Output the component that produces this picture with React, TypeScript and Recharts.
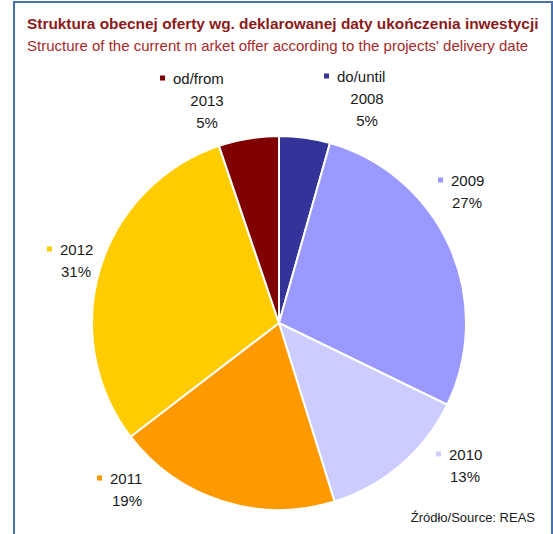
import { PieChart, Pie, Cell } from "recharts";

// slice values (angles), clockwise from 12 o'clock
const categories = ["do/until 2008", "2009", "2010", "2011", "2012", "od/from 2013"];
const shares = [4.4, 27.8, 13.0, 19.4, 30.2, 5.2];
const shareLabels = ["5%", "27%", "13%", "19%", "31%", "5%"];
const nameLines = [["do/until", "2008"], ["2009"], ["2010"], ["2011"], ["2012"], ["od/from", "2013"]];
const colors = ["#333399", "#9999ff", "#ccccff", "#ff9900", "#ffcc00", "#800000"];

const data = categories.map((name, i) => ({ name, value: shares[i] }));

// label placement relative to pie center: text start, first line y, column center
const labelLayout = [
  { sx: 58, y: -246, c: 88 },
  { sx: 172, y: -142, c: 188 },
  { sx: 170, y: 132, c: 186 },
  { sx: -169, y: 156, c: -152 },
  { sx: -219, y: -73, c: -203 },
  { sx: -106, y: -244, c: -72 },
];

const FONT = "'Liberation Sans', Arial, Helvetica, sans-serif";
const LINE = 21.7;

function renderLabel(props: any) {
  const { cx, cy, index } = props;
  const l = labelLayout[index];
  const lines = [...nameLines[index], shareLabels[index]];
  const x0 = cx + l.sx;
  const y0 = cy + l.y;
  return (
    <g key={index}>
      <rect x={x0 - 13} y={y0 - 3.5} width={5} height={5} fill={colors[index]} />
      {lines.map((t, k) => (
        <text
          key={k}
          x={k === 0 ? x0 : cx + l.c}
          y={y0 + k * LINE + 5.3}
          textAnchor={k === 0 ? "start" : "middle"}
          fontFamily={FONT}
          fontSize={15}
          fill="#1a1a1a"
        >
          {t}
        </text>
      ))}
    </g>
  );
}

export default function App() {
  return (
    <div
      style={{
        position: "absolute",
        left: 0,
        top: 0,
        width: 553,
        height: 534,
        overflow: "hidden",
        background: "#fff",
        fontFamily: FONT,
      }}
    >
      <div
        style={{
          position: "absolute",
          left: 13,
          top: 1,
          width: 536,
          height: 560,
          border: "2px solid #4a6fae",
        }}
      />
      <div
        style={{
          position: "absolute",
          left: 27,
          top: 15,
          fontSize: 15.4,
          fontWeight: "bold",
          color: "#8b1a1a",
          whiteSpace: "nowrap",
        }}
      >
        Struktura obecnej oferty wg. deklarowanej daty ukończenia inwestycji
      </div>
      <div
        style={{
          position: "absolute",
          left: 27,
          top: 37,
          fontSize: 15,
          color: "#a52a2a",
          whiteSpace: "nowrap",
        }}
      >
        Structure of the current m arket offer according to the projects' delivery date
      </div>
      <div style={{ position: "absolute", left: 0, top: 0 }}>
        <PieChart width={553} height={534} margin={{ top: 0, right: 0, bottom: 0, left: 0 }}>
          <Pie
            data={data}
            dataKey="value"
            nameKey="name"
            cx={279}
            cy={323}
            outerRadius={187}
            startAngle={90}
            endAngle={-270}
            stroke="#ffffff"
            strokeWidth={2}
            label={renderLabel}
            labelLine={false}
            isAnimationActive={false}
          >
            {data.map((d, i) => (
              <Cell key={d.name} fill={colors[i]} />
            ))}
          </Pie>
        </PieChart>
      </div>
      <div
        style={{
          position: "absolute",
          right: 18,
          top: 510,
          fontSize: 13,
          color: "#1a1a1a",
          whiteSpace: "nowrap",
        }}
      >
        Źródło/Source: REAS
      </div>
    </div>
  );
}
